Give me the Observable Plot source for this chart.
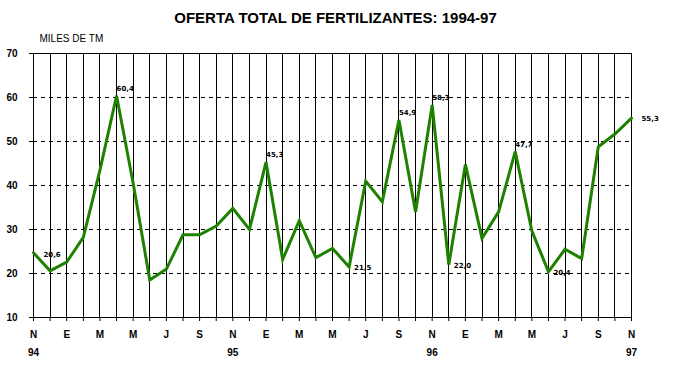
<!DOCTYPE html>
<html>
<head>
<meta charset="utf-8">
<script src="https://cdn.jsdelivr.net/npm/d3@7"></script>
<script src="https://cdn.jsdelivr.net/npm/@observablehq/plot@0.6"></script>
<style>
  html, body { margin: 0; padding: 0; background: #fff; }
  #chart svg { display: block; }
</style>
</head>
<body>
<div id="chart"></div>
<script>
// Monthly supply, thousand tonnes, Nov 1994 .. Nov 1997 (index 0..36)
const values = [24.7, 20.6, 22.6, 28.2, 43.5, 60.4, 40.5, 18.5, 21.0, 28.8, 28.8, 30.8,
                34.8, 30.0, 45.3, 23.2, 32.0, 23.6, 25.7, 21.5, 41.0, 36.3, 54.9, 34.0,
                58.3, 22.0, 44.8, 28.0, 34.0, 47.7, 29.7, 20.4, 25.5, 23.4, 48.8, 51.7, 55.3];
const monthLabels = ["N","E","M","M","J","S","N","E","M","M","J","S","N","E","M","M","J","S","N"];
const yearLabels = ["94","95","96","97"];
const yTicks = [10, 20, 30, 40, 50, 60, 70];
const labelIdx = [1, 5, 14, 19, 22, 24, 25, 29, 31, 36];
const labelText = ["20,6","60,4","45,3","21,5","54,9","58,3","22,0","47,7","20,4","55,3"];
const title = "OFERTA TOTAL DE FERTILIZANTES: 1994-97";
const unit = "MILES DE TM";

const data = values.map((v, i) => ({i, v}));
const labels = labelIdx.map((i, k) => ({i, v: values[i], t: labelText[k]}));
const peaks = labels.filter(d => [5,14,22,24,29].includes(d.i));
const troughs = labels.filter(d => [19,25,31].includes(d.i));
const first = labels.filter(d => d.i === 1);
const last = labels.filter(d => d.i === 36);
const monthTicks = monthLabels.map((t, k) => ({i: k * 2, t}));
const yearTicks = yearLabels.map((t, k) => ({i: k * 12, t}));

const lab = {fontSize: 7, fontWeight: "bold", fontFamily: "DejaVu Sans", fill: "#000"};
const green = "#1e8200";
const crisp = {stroke: "#000", strokeWidth: 1, shapeRendering: "crispEdges"};

const chart = Plot.plot({
  width: 676,
  height: 375,
  marginLeft: 33,
  marginRight: 45,
  marginTop: 53,
  marginBottom: 58,
  style: {background: "#fff", fontFamily: "Liberation Sans, Arial, sans-serif"},
  x: {type: "linear", domain: [0, 36]},
  y: {domain: [10, 70]},
  marks: [
    Plot.ruleY([20, 30, 40, 50, 60], {...crisp, strokeDasharray: "4,4"}),
    Plot.ruleX(d3.range(0, 37), {y1: 10, y2: 70, ...crisp}),
    Plot.ruleY([10, 70], {x1: -0.24, x2: 36, ...crisp}),
    Plot.axisY({ticks: yTicks, tickSize: 4, tickPadding: 12, fontSize: 10, fontWeight: "bold", label: null, stroke: "#000"}),
    Plot.axisX({ticks: d3.range(0, 37), tickSize: 4, tickFormat: () => "", label: null, stroke: "#000"}),
    Plot.text(monthTicks, {x: "i", y: 10, text: "t", dy: 17, fontSize: 10, fontWeight: "bold", fill: "#000"}),
    Plot.text(yearTicks, {x: "i", y: 10, text: "t", dy: 35, fontSize: 10, fontWeight: "bold", fill: "#000"}),
    Plot.line(data, {x: "i", y: "v", stroke: green, strokeWidth: 3, strokeLinejoin: "miter", strokeMiterlimit: 4}),
    Plot.text(peaks, {x: "i", y: "v", text: "t", textAnchor: "start", dx: 0, dy: -7, ...lab}),
    Plot.text(troughs, {x: "i", y: "v", text: "t", textAnchor: "start", dx: 5, dy: 1, ...lab}),
    Plot.text(first, {x: "i", y: "v", text: "t", dy: -16, dx: 2, ...lab}),
    Plot.text(last, {x: "i", y: "v", text: "t", textAnchor: "start", dx: 10, dy: 1, ...lab}),
    Plot.text([title], {frameAnchor: "top", lineAnchor: "middle", dy: -35, dx: 3, fontSize: 15, fontWeight: "bold", fill: "#000"}),
    Plot.text([unit], {frameAnchor: "top-left", textAnchor: "start", lineAnchor: "middle", dx: 6, dy: -15, fontSize: 10, fill: "#000"})
  ]
});
document.getElementById("chart").appendChild(chart);
</script>
</body>
</html>
